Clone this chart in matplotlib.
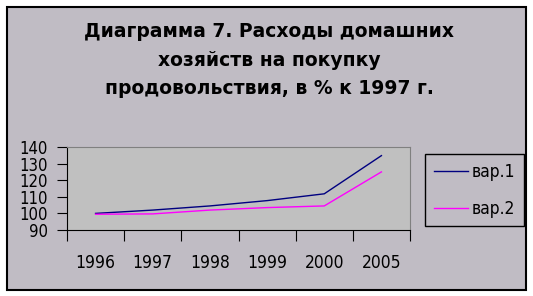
import matplotlib
matplotlib.use("Agg")
import matplotlib.pyplot as plt
from matplotlib.patches import Rectangle

years = ["1996", "1997", "1998", "1999", "2000", "2005"]
var1 = [100, 102, 104.5, 107.7, 111.8, 134.8]
var2 = [99.5, 99.7, 102, 103.5, 104.5, 125]
labels = ["вар.1", "вар.2"]
title = "Диаграмма 7. Расходы домашних\nхозяйств на покупку\nпродовольствия, в % к 1997 г."

W, H = 533, 296
bg = "#c0bcc4"

plt.rcParams["font.stretch"] = "condensed"

fig = plt.figure(figsize=(W / 100, H / 100), dpi=100)
fig.patch.set_facecolor("white")

# outer frame of the chart
fig.patches.append(Rectangle((7 / W, 1 - 290 / H), (526 - 7) / W, (290 - 7) / H,
                             transform=fig.transFigure, facecolor=bg,
                             edgecolor="black", linewidth=1.5, zorder=-5))

ax = fig.add_axes([67 / W, 1 - 230 / H, (410 - 67) / W, (230 - 147) / H])
ax.set_facecolor("#c0c0c0")
for s in ax.spines.values():
    s.set_color("#808080")
ax.spines["left"].set_color("black")
ax.spines["bottom"].set_color("black")

x = list(range(len(years)))
ax.plot(x, var1, color="#000080", lw=1, label=labels[0])
ax.plot(x, var2, color="#ff00ff", lw=1, label=labels[1])

ax.set_xlim(-0.5, len(years) - 0.5)
ax.set_ylim(90, 140)
ax.set_yticks(range(90, 141, 10))
ax.set_xticks([i - 0.5 for i in range(len(years) + 1)])
ax.set_xticklabels([])
ax.set_xticks(x, minor=True)
ax.set_xticklabels(years, minor=True)
ax.tick_params(axis="x", which="major", length=8, direction="out")
ax.tick_params(axis="x", which="minor", length=0, pad=17, labelsize=12.5)
ax.tick_params(axis="y", length=7, pad=7, labelsize=12)

fig.text(0.505, 1 - 60 / H, title, ha="center", va="center", fontsize=13.5,
         fontweight="bold", fontstretch="normal", linespacing=1.65)

leg = ax.legend(loc="upper left", bbox_to_anchor=(425 / W, 1 - 154 / H),
                bbox_transform=fig.transFigure, frameon=True, fancybox=False,
                fontsize=12.5, handlelength=2.0, labelspacing=1.1,
                borderpad=0.5, handletextpad=0.2, borderaxespad=0)
leg.get_frame().set_facecolor(bg)
leg.get_frame().set_edgecolor("black")
leg.get_frame().set_linewidth(1)
leg.get_frame().set_alpha(1)

fig.savefig("out.png", dpi=100, facecolor="white")
